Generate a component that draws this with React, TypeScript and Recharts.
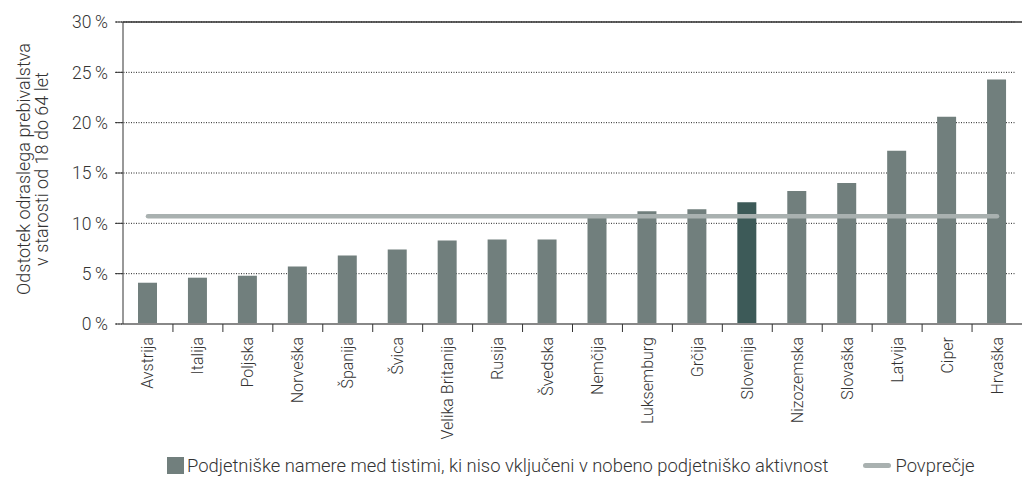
import React from 'react';
import { ComposedChart, Bar, Line, XAxis, YAxis, CartesianGrid, Cell, Legend, ReferenceLine } from 'recharts';

const countries = ['Avstrija', 'Italija', 'Poljska', 'Norveška', 'Španija', 'Švica', 'Velika Britanija', 'Rusija', 'Švedska', 'Nemčija', 'Luksemburg', 'Grčija', 'Slovenija', 'Nizozemska', 'Slovaška', 'Latvija', 'Ciper', 'Hrvaška'];
const intentions = [4.1, 4.6, 4.8, 5.7, 6.8, 7.4, 8.3, 8.4, 8.4, 10.7, 11.2, 11.4, 12.1, 13.2, 14.0, 17.2, 20.6, 24.3];
const average = 10.7;
const yTicks = [0, 5, 10, 15, 20, 25, 30];
const highlight = 'Slovenija';

const data = countries.map((name, i) => ({ name, value: intentions[i], avg: average }));

const W = 1025;
const H = 478;
const M = { top: 22, right: 3, left: 0, bottom: 0 };
const Y_W = 123;
const X_H = 133;
const band = (W - Y_W - M.right) / countries.length;

const FONT = 'Roboto, "Open Sans", sans-serif';
const BAR = '#717f7d';
const BAR_HI = '#3d5a58';
const AVG = '#a9b1b0';

const XTick = (props: any) => {
  const { x, y, payload, index } = props;
  return (
    <g>
      {index > 0 && <line x1={x - band / 2} x2={x - band / 2} y1={y - 8} y2={y} stroke="#333" strokeWidth={1} />}
      <text x={x} y={y + 5} transform={`rotate(-90 ${x} ${y + 5})`} textAnchor="end" dominantBaseline="central" fill="#333" fontSize={16} fontWeight={300} fontFamily={FONT}>
        {payload.value}
      </text>
    </g>
  );
};

const YLabel = (props: any) => {
  const { viewBox } = props;
  const cy = viewBox.y + viewBox.height / 2 - 4;
  return (
    <g fontFamily={FONT} fontSize={18} fontWeight={300} fill="#333" textAnchor="middle">
      <text x={23} y={cy} transform={`rotate(-90 23 ${cy})`} dominantBaseline="central">Odstotek odraslega prebivalstva</text>
      <text x={41} y={cy} transform={`rotate(-90 41 ${cy})`} dominantBaseline="central">v starosti od 18 do 64 let</text>
    </g>
  );
};

const LegendContent = () => (
  <div style={{ fontFamily: FONT, fontWeight: 300, fontSize: 18.4, color: '#333', display: 'flex', alignItems: 'center', whiteSpace: 'nowrap' }}>
    <span style={{ display: 'inline-block', width: 17, height: 17, background: BAR, marginLeft: 167, marginRight: 3 }} />
    <span>Podjetniške namere med tistimi, ki niso vključeni v nobeno podjetniško aktivnost</span>
    <span style={{ display: 'inline-block', width: 28, height: 5, borderRadius: 3, background: AVG, marginLeft: 35, marginRight: 4 }} />
    <span>Povprečje</span>
  </div>
);

export default function App() {
  return (
    <div style={{ position: 'absolute', left: 0, top: 0, width: W, height: H, background: '#fff' }}>
      <ComposedChart width={W} height={H} data={data} margin={M} barSize={19}>
        <CartesianGrid horizontal vertical={false} stroke="#222" strokeDasharray="1 1.5" x={Y_W - 7} />
        <XAxis
          dataKey="name"
          interval={0}
          height={X_H}
          tick={<XTick />}
          tickLine={false}
          axisLine={{ stroke: '#888', strokeWidth: 2 }}
        />
        <YAxis
          domain={[0, 30]}
          ticks={yTicks}
          width={Y_W}
          tickSize={8}
          tickMargin={7}
          tickLine={{ stroke: '#333' }}
          axisLine={{ stroke: '#333' }}
          tickFormatter={(v: number) => `${v}\u2009%`}
          tick={{ fill: '#333', fontSize: 17.5, fontWeight: 300, fontFamily: FONT }}
          label={<YLabel />}
        />
        <ReferenceLine y={30} stroke="#333" strokeWidth={1.5} />
        <Bar dataKey="value" isAnimationActive={false}>
          {data.map((d) => (
            <Cell key={d.name} fill={d.name === highlight ? BAR_HI : BAR} />
          ))}
        </Bar>
        <Line dataKey="avg" type="linear" stroke={AVG} strokeWidth={4.5} strokeLinecap="round" dot={false} activeDot={false} isAnimationActive={false} />
        <Legend content={<LegendContent />} wrapperStyle={{ position: 'absolute', left: 0, top: 455, width: W }} />
      </ComposedChart>
    </div>
  );
}
